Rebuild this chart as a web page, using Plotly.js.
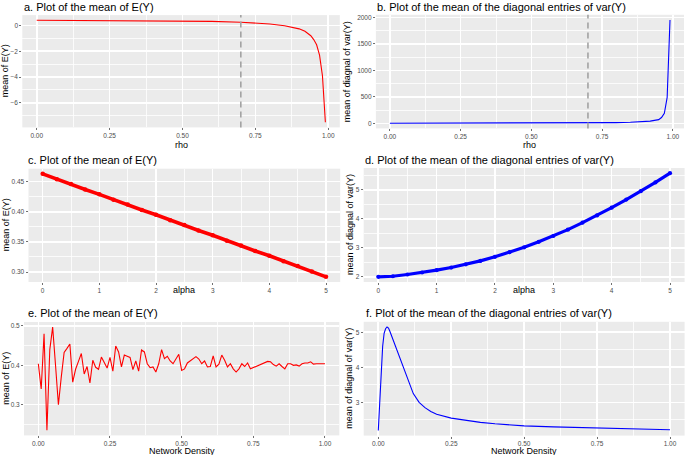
<!DOCTYPE html>
<html>
<head>
<meta charset="utf-8">
<script src="https://cdn.plot.ly/plotly-3.0.1.min.js"></script>
<style>html,body{margin:0;padding:0;background:#fff;}#chart{width:685px;height:455px;}</style>
</head>
<body>
<div id="chart"></div>
<script>
// ---- data ----
const rho = [0, 0.1, 0.2, 0.3, 0.4, 0.5, 0.6, 0.7, 0.75, 0.8, 0.85, 0.88, 0.9, 0.92, 0.94, 0.95, 0.96, 0.97, 0.98, 0.99];
const meanEY_rho = [0.40, 0.39, 0.38, 0.37, 0.36, 0.34, 0.31, 0.24, 0.19, 0.11, -0.03, -0.15, -0.27, -0.46, -0.80, -1.10, -1.50, -2.30, -3.90, -7.50];
const meanVar_rho = [2, 2, 2.5, 3, 3.5, 4.5, 6, 9, 11, 14, 20, 26, 32, 42, 60, 70, 110, 190, 490, 1950];
const rhoCutoff = 0.7;

const alpha = [0, 0.25, 0.5, 0.75, 1, 1.25, 1.5, 1.75, 2, 2.25, 2.5, 2.75, 3, 3.25, 3.5, 3.75, 4, 4.25, 4.5, 4.75, 5];
const meanEY_alpha = [0.463, 0.454, 0.446, 0.437, 0.429, 0.420, 0.412, 0.403, 0.395, 0.386, 0.378, 0.369, 0.361, 0.352, 0.344, 0.335, 0.327, 0.318, 0.310, 0.301, 0.292];
const meanVar_alpha = [2.00, 2.02, 2.08, 2.15, 2.23, 2.32, 2.43, 2.55, 2.69, 2.85, 3.02, 3.21, 3.41, 3.63, 3.87, 4.12, 4.39, 4.67, 4.96, 5.26, 5.58];

const density = [0,0.01,0.02,0.03,0.04,0.05,0.06,0.07,0.08,0.09,0.10,0.11,0.12,0.13,0.14,0.15,0.16,0.17,0.18,0.19,0.20,0.21,0.22,0.23,0.24,0.25,0.26,0.27,0.28,0.29,0.30,0.31,0.32,0.33,0.34,0.35,0.36,0.37,0.38,0.39,0.40,0.41,0.42,0.43,0.44,0.45,0.46,0.47,0.48,0.49,0.50,0.51,0.52,0.53,0.54,0.55,0.56,0.57,0.58,0.59,0.60,0.61,0.62,0.63,0.64,0.65,0.66,0.67,0.68,0.69,0.70,0.71,0.72,0.73,0.74,0.75,0.76,0.77,0.78,0.79,0.80,0.81,0.82,0.83,0.84,0.85,0.86,0.87,0.88,0.89,0.90,0.91,0.92,0.93,0.94,0.95,0.96,0.97,0.98,0.99,1.00];
const meanEY_density = [0.404,0.340,0.480,0.235,0.440,0.497,0.400,0.300,0.370,0.433,0.443,0.454,0.357,0.390,0.410,0.430,0.378,0.397,0.355,0.413,0.395,0.390,0.421,0.405,0.393,0.420,0.385,0.449,0.434,0.396,0.426,0.423,0.420,0.389,0.411,0.385,0.439,0.434,0.404,0.394,0.396,0.383,0.404,0.440,0.417,0.423,0.411,0.404,0.417,0.428,0.387,0.391,0.406,0.411,0.415,0.422,0.416,0.404,0.411,0.396,0.397,0.424,0.396,0.403,0.426,0.413,0.396,0.404,0.391,0.383,0.391,0.404,0.397,0.406,0.391,0.394,0.396,0.400,0.403,0.407,0.410,0.409,0.402,0.398,0.404,0.397,0.391,0.404,0.404,0.400,0.401,0.398,0.404,0.406,0.406,0.409,0.403,0.404,0.404,0.404,0.404];

const densityF = [0, 0.005, 0.01, 0.015, 0.02, 0.025, 0.03, 0.035, 0.04, 0.05, 0.06, 0.07, 0.08, 0.09, 0.10, 0.11, 0.12, 0.14, 0.16, 0.18, 0.20, 0.25, 0.30, 0.35, 0.40, 0.50, 0.60, 0.70, 0.80, 0.90, 1.00];
const meanVar_density = [2.20, 3.00, 3.90, 4.60, 4.97, 5.10, 5.15, 5.12, 5.02, 4.80, 4.60, 4.38, 4.16, 3.92, 3.68, 3.45, 3.25, 3.00, 2.85, 2.74, 2.66, 2.55, 2.48, 2.43, 2.39, 2.33, 2.30, 2.28, 2.26, 2.24, 2.22];

const panelTitles = ["a. Plot of the mean of E(Y)", "b. Plot of the mean of the diagonal entries of var(Y)",
  "c. Plot of the mean of E(Y)", "d. Plot of the mean of the diagonal entries of var(Y)",
  "e. Plot of the mean of E(Y)", "f. Plot of the mean of the diagonal entries of var(Y)"];
const xTitles = ["rho", "rho", "alpha", "alpha", "Network Density", "Network Density"];
const yTitles = ["mean of E(Y)", "mean of diagnal of var(Y)", "mean of E(Y)", "mean of diagnal of var(Y)", "mean of E(Y)", "mean of diagnal of var(Y)"];

// ---- helpers ----
const W = 685, H = 455;
const FONT = "Liberation Sans, Arial, Helvetica, sans-serif";
function px(x){ return x / W; }
function py(y){ return 1 - y / H; }
function expand(arr){ const mn = Math.min(...arr), mx = Math.max(...arr), s = mx - mn; return [mn - 0.05*s, mx + 0.05*s]; }

// panel pixel boxes [left, right, top, bottom]
const boxes = [
  [22.3, 339.8, 15.1, 127.4],
  [375.9, 684.0, 14.8, 128.4],
  [28.5, 340.2, 168.7, 282.0],
  [363.7, 684.6, 168.0, 282.0],
  [24.0, 339.3, 322.0, 435.4],
  [363.7, 684.6, 321.8, 435.6]
];

function axis(box, isX, range, dtick, minorDtick, fmt, anchor){
  const dom = isX ? [px(box[0]), px(box[1])] : [py(box[3]), py(box[2])];
  return {
    domain: dom, range: range, anchor: anchor, autorange: false,
    tickmode: "linear", tick0: 0, dtick: dtick, tickformat: fmt,
    showgrid: true, gridcolor: "#FFFFFF", gridwidth: 1.6,
    minor: {tickmode: "linear", tick0: 0, dtick: minorDtick, showgrid: true, gridcolor: "#FFFFFF", gridwidth: 0.8, ticks: ""},
    zeroline: false, showline: false,
    ticks: "outside", ticklen: 2, tickwidth: 0.7, tickcolor: "#333333",
    tickfont: {family: FONT, size: 6.5, color: "#4D4D4D"},
    fixedrange: true
  };
}

const traces = [
  {x: rho, y: meanEY_rho, xaxis: "x", yaxis: "y", mode: "lines", line: {color: "#FF0000", width: 1.1}},
  {x: rho, y: meanVar_rho, xaxis: "x2", yaxis: "y2", mode: "lines", line: {color: "#0000FF", width: 1.1}},
  {x: alpha, y: meanEY_alpha, xaxis: "x3", yaxis: "y3", mode: "lines+markers", line: {color: "#FF0000", width: 3.6}, marker: {color: "#FF0000", size: 4.5}},
  {x: alpha, y: meanVar_alpha, xaxis: "x4", yaxis: "y4", mode: "lines+markers", line: {color: "#0000FF", width: 3.2}, marker: {color: "#0000FF", size: 4.2}},
  {x: density, y: meanEY_density, xaxis: "x5", yaxis: "y5", mode: "lines", line: {color: "#FF0000", width: 1.1}},
  {x: densityF, y: meanVar_density, xaxis: "x6", yaxis: "y6", mode: "lines", line: {color: "#0000FF", width: 1.1}}
];

const rhoRange = expand(rho.concat([rhoCutoff]));
const alphaRange = expand(alpha);
const densRange = expand(density);

const layout = {
  width: W, height: H,
  margin: {l: 0, r: 0, t: 0, b: 0},
  paper_bgcolor: "#FFFFFF", plot_bgcolor: "#EBEBEB",
  showlegend: false,
  font: {family: FONT},
  xaxis:  axis(boxes[0], true, rhoRange, 0.25, 0.125, ".2f", "y"),
  yaxis:  axis(boxes[0], false, expand(meanEY_rho), 2, 1, "", "x"),
  xaxis2: axis(boxes[1], true, rhoRange, 0.25, 0.125, ".2f", "y2"),
  yaxis2: axis(boxes[1], false, expand(meanVar_rho), 500, 250, "", "x2"),
  xaxis3: axis(boxes[2], true, alphaRange, 1, 0.5, "", "y3"),
  yaxis3: axis(boxes[2], false, expand(meanEY_alpha), 0.05, 0.025, ".2f", "x3"),
  xaxis4: axis(boxes[3], true, alphaRange, 1, 0.5, "", "y4"),
  yaxis4: axis(boxes[3], false, expand(meanVar_alpha), 1, 0.5, "", "x4"),
  xaxis5: axis(boxes[4], true, densRange, 0.25, 0.125, ".2f", "y5"),
  yaxis5: axis(boxes[4], false, expand(meanEY_density), 0.1, 0.05, ".1f", "x5"),
  xaxis6: axis(boxes[5], true, densRange, 0.25, 0.125, ".2f", "y6"),
  yaxis6: axis(boxes[5], false, expand(meanVar_density), 1, 0.5, "", "x6"),
  shapes: [
    {type: "line", xref: "x", yref: "y domain", x0: rhoCutoff, x1: rhoCutoff, y0: 0, y1: 1, layer: "above", line: {color: "#A3A3A3", width: 1.6, dash: "6px,4px"}},
    {type: "line", xref: "x2", yref: "y2 domain", x0: rhoCutoff, x1: rhoCutoff, y0: 0, y1: 1, layer: "above", line: {color: "#A3A3A3", width: 1.6, dash: "6px,4px"}}
  ],
  annotations: []
};

const titlePos = [[22.7, 7], [376, 7], [26.7, 160], [364, 160], [26.7, 313.3], [365, 313.3]];
const xTitleY = [145, 145, 289.5, 289.5, 450.5, 450.5];
const yTitleX = [5, 346.7, 6, 350, 6, 349];
for (let i = 0; i < 6; i++) {
  const b = boxes[i];
  layout.annotations.push({text: panelTitles[i], xref: "paper", yref: "paper", x: px(titlePos[i][0]), y: py(titlePos[i][1]),
    xanchor: "left", yanchor: "middle", showarrow: false, borderpad: 0, font: {family: FONT, size: 11, color: "#000000"}});
  layout.annotations.push({text: xTitles[i], xref: "paper", yref: "paper", x: px((b[0] + b[1]) / 2), y: py(xTitleY[i]),
    xanchor: "center", yanchor: "middle", showarrow: false, borderpad: 0, font: {family: FONT, size: 9, color: "#000000"}});
  layout.annotations.push({text: yTitles[i], xref: "paper", yref: "paper", x: px(yTitleX[i]), y: py((b[2] + b[3]) / 2),
    xanchor: "center", yanchor: "middle", textangle: -90, showarrow: false, borderpad: 0, font: {family: FONT, size: 9, color: "#000000"}});
}

Plotly.newPlot("chart", traces, layout, {staticPlot: true, displayModeBar: false});
</script>
</body>
</html>
